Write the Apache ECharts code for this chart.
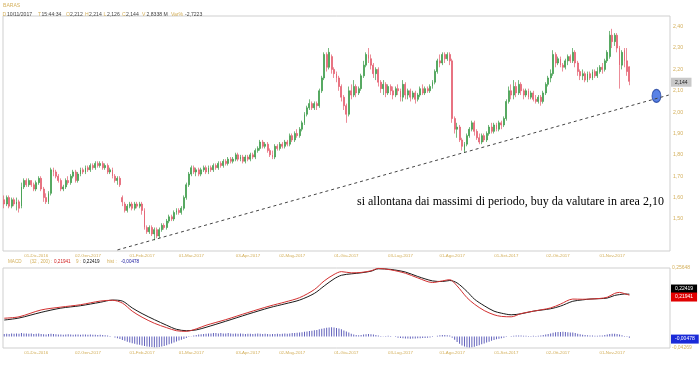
<!DOCTYPE html>
<html><head><meta charset="utf-8">
<script src="https://cdn.jsdelivr.net/npm/echarts@6/dist/echarts.min.js"></script>
<style>html,body{margin:0;padding:0;background:#fff}#c{width:700px;height:365px}</style>
</head><body><div id="c"></div>
<script>
// ---- data ----
const START = '2016-11-14';
const HOLIDAYS = ['2016-12-26','2017-04-14','2017-04-17','2017-05-01','2017-08-15'];
const SLOTS = 271;
const MESI = ['Gen','Feb','Mar','Apr','Mag','Giu','Lug','Ago','Set','Ott','Nov','Dic'];
const tickLabels = ['01-Dic-2016','02-Gen-2017','01-Feb-2017','01-Mar-2017','03-Apr-2017','02-Mag-2017','01-Giu-2017','03-Lug-2017','01-Ago-2017','01-Set-2017','02-Ott-2017','01-Nov-2017'];

// [open, close, low, high]
const ohlc = [
[1.59,1.57,1.55,1.61],[1.57,1.60,1.56,1.61],[1.60,1.56,1.55,1.61],[1.56,1.59,1.55,1.60],[1.59,1.57,1.56,1.60],
[1.57,1.58,1.54,1.60],[1.58,1.55,1.53,1.59],[1.56,1.65,1.55,1.67],[1.65,1.68,1.64,1.69],[1.68,1.66,1.65,1.69],
[1.66,1.68,1.65,1.69],[1.68,1.66,1.65,1.68],[1.66,1.64,1.63,1.67],[1.64,1.67,1.63,1.68],[1.67,1.69,1.66,1.70],
[1.69,1.64,1.63,1.70],[1.64,1.60,1.58,1.65],[1.60,1.58,1.57,1.62],[1.58,1.62,1.57,1.63],[1.62,1.73,1.61,1.74],
[1.73,1.72,1.70,1.74],[1.72,1.70,1.69,1.73],[1.70,1.68,1.67,1.71],[1.68,1.64,1.63,1.69],[1.64,1.65,1.63,1.66],
[1.65,1.68,1.64,1.69],[1.68,1.67,1.66,1.70],[1.67,1.70,1.66,1.71],[1.70,1.72,1.69,1.73],[1.72,1.68,1.67,1.73],
[1.68,1.71,1.67,1.72],[1.71,1.73,1.70,1.74],[1.73,1.72,1.71,1.74],[1.72,1.74,1.71,1.75],[1.74,1.73,1.72,1.75],
[1.73,1.75,1.72,1.76],[1.75,1.74,1.73,1.76],[1.74,1.76,1.73,1.77],[1.76,1.75,1.74,1.77],[1.75,1.76,1.74,1.77],
[1.76,1.74,1.73,1.77],[1.74,1.75,1.73,1.76],[1.75,1.72,1.71,1.76],[1.72,1.73,1.71,1.74],[1.73,1.70,1.69,1.74],
[1.70,1.68,1.67,1.71],[1.68,1.69,1.66,1.70],[1.69,1.66,1.65,1.70],[1.60,1.58,1.56,1.61],[1.57,1.54,1.53,1.58],
[1.54,1.56,1.53,1.57],[1.56,1.57,1.55,1.58],[1.57,1.55,1.54,1.58],[1.55,1.57,1.54,1.58],[1.57,1.56,1.55,1.58],
[1.56,1.57,1.55,1.58],[1.57,1.54,1.52,1.58],[1.54,1.46,1.45,1.55],[1.46,1.44,1.43,1.47],[1.44,1.46,1.43,1.47],
[1.46,1.43,1.42,1.47],[1.43,1.45,1.40,1.46],[1.45,1.42,1.41,1.46],[1.42,1.45,1.41,1.46],[1.45,1.47,1.44,1.48],
[1.47,1.46,1.45,1.48],[1.46,1.49,1.45,1.50],[1.49,1.51,1.48,1.52],[1.51,1.50,1.49,1.52],[1.50,1.53,1.49,1.54],
[1.53,1.54,1.52,1.55],[1.54,1.53,1.52,1.55],[1.53,1.55,1.52,1.56],[1.55,1.60,1.54,1.61],[1.60,1.66,1.59,1.67],
[1.66,1.71,1.65,1.72],[1.71,1.74,1.70,1.75],[1.74,1.72,1.71,1.75],[1.72,1.73,1.70,1.74],[1.73,1.71,1.70,1.74],
[1.71,1.73,1.70,1.74],[1.73,1.74,1.72,1.75],[1.74,1.72,1.71,1.75],[1.72,1.74,1.71,1.75],[1.74,1.73,1.72,1.75],
[1.73,1.75,1.72,1.76],[1.75,1.74,1.73,1.76],[1.74,1.76,1.73,1.77],[1.76,1.75,1.74,1.77],[1.75,1.77,1.74,1.78],
[1.77,1.76,1.75,1.78],[1.76,1.78,1.75,1.79],[1.78,1.77,1.76,1.79],[1.77,1.78,1.76,1.79],[1.78,1.80,1.77,1.81],
[1.80,1.78,1.77,1.81],[1.78,1.79,1.77,1.80],[1.79,1.77,1.76,1.80],[1.77,1.79,1.76,1.80],[1.79,1.78,1.77,1.80],
[1.78,1.80,1.77,1.81],[1.80,1.79,1.78,1.81],[1.79,1.82,1.78,1.83],[1.82,1.83,1.81,1.84],[1.83,1.86,1.82,1.87],
[1.86,1.84,1.83,1.87],[1.84,1.85,1.83,1.86],[1.85,1.82,1.81,1.86],[1.82,1.80,1.79,1.83],[1.80,1.79,1.78,1.82],
[1.79,1.84,1.78,1.85],[1.84,1.83,1.82,1.85],[1.83,1.85,1.82,1.86],[1.85,1.84,1.83,1.86],[1.84,1.86,1.83,1.87],
[1.86,1.85,1.84,1.87],[1.85,1.89,1.84,1.90],[1.89,1.87,1.86,1.90],[1.87,1.90,1.86,1.91],[1.90,1.89,1.88,1.92],
[1.89,1.92,1.88,1.93],[1.92,1.95,1.91,1.96],[1.95,1.99,1.94,2.00],[1.99,2.02,1.98,2.03],[2.02,2.04,2.01,2.06],
[2.04,2.02,2.01,2.05],[2.02,2.04,2.01,2.05],[2.04,2.03,2.01,2.05],[2.03,2.10,2.02,2.11],[2.10,2.16,2.09,2.17],
[2.16,2.27,2.15,2.28],[2.27,2.21,2.19,2.28],[2.21,2.28,2.20,2.30],[2.26,2.20,2.18,2.27],[2.20,2.18,2.16,2.21],
[2.18,2.16,2.14,2.19],[2.16,2.12,2.10,2.17],[2.12,2.07,2.05,2.13],[2.07,2.03,2.01,2.08],[2.03,1.99,1.95,2.04],
[1.99,2.10,1.98,2.12],[2.10,2.08,2.06,2.13],[2.08,2.12,2.07,2.15],[2.12,2.09,2.07,2.13],[2.09,2.11,2.08,2.12],
[2.11,2.17,2.10,2.18],[2.17,2.22,2.16,2.24],[2.22,2.27,2.21,2.28],[2.27,2.25,2.23,2.30],[2.25,2.22,2.20,2.27],
[2.22,2.18,2.16,2.23],[2.18,2.20,2.15,2.21],[2.20,2.14,2.12,2.21],[2.14,2.11,2.09,2.15],[2.11,2.13,2.08,2.15],
[2.13,2.09,2.07,2.14],[2.09,2.12,2.08,2.13],[2.12,2.10,2.08,2.13],[2.10,2.08,2.06,2.12],[2.08,2.11,2.07,2.12],
[2.11,2.10,2.08,2.13],[2.10,2.07,2.05,2.11],[2.07,2.13,2.05,2.15],[2.13,2.08,2.06,2.14],[2.08,2.10,2.06,2.11],
[2.10,2.07,2.05,2.11],[2.07,2.09,2.06,2.10],[2.09,2.06,2.04,2.10],[2.06,2.08,2.05,2.09],[2.08,2.11,2.07,2.12],
[2.11,2.09,2.08,2.13],[2.09,2.11,2.08,2.12],[2.11,2.10,2.09,2.12],[2.10,2.12,2.09,2.13],[2.12,2.14,2.11,2.15],
[2.14,2.19,2.13,2.20],[2.19,2.24,2.18,2.25],[2.24,2.23,2.21,2.27],[2.23,2.27,2.22,2.28],[2.27,2.25,2.23,2.28],
[2.25,2.27,2.24,2.28],[2.27,2.24,2.22,2.28],[2.24,1.97,1.95,2.25],[1.97,1.92,1.90,1.98],[1.92,1.93,1.88,1.95],
[1.93,1.87,1.86,1.94],[1.87,1.84,1.82,1.88],[1.82,1.85,1.81,1.86],[1.85,1.89,1.84,1.90],[1.89,1.92,1.88,1.93],
[1.92,1.95,1.91,1.96],[1.95,1.91,1.89,1.96],[1.91,1.88,1.87,1.92],[1.88,1.86,1.85,1.90],[1.86,1.89,1.85,1.90],
[1.89,1.87,1.86,1.90],[1.87,1.90,1.86,1.91],[1.90,1.93,1.89,1.94],[1.93,1.91,1.90,1.95],[1.91,1.94,1.90,1.95],
[1.94,1.92,1.91,1.95],[1.92,1.95,1.91,1.96],[1.95,1.94,1.92,1.96],[1.94,1.97,1.93,1.98],[1.97,2.05,1.96,2.06],
[2.05,2.10,2.04,2.12],[2.10,2.08,2.06,2.13],[2.08,2.12,2.06,2.15],[2.12,2.09,2.07,2.14],[2.09,2.13,2.08,2.15],
[2.13,2.10,2.08,2.14],[2.10,2.08,2.06,2.11],[2.08,2.10,2.07,2.11],[2.10,2.07,2.06,2.11],[2.07,2.09,2.06,2.10],
[2.09,2.06,2.05,2.10],[2.06,2.05,2.04,2.08],[2.05,2.07,2.04,2.08],[2.07,2.05,2.03,2.08],[2.05,2.09,2.04,2.10],
[2.09,2.13,2.08,2.14],[2.13,2.16,2.12,2.17],[2.16,2.18,2.14,2.20],[2.18,2.27,2.17,2.29],[2.27,2.23,2.21,2.28],
[2.23,2.25,2.22,2.26],[2.25,2.22,2.21,2.26],[2.22,2.21,2.19,2.23],[2.21,2.24,2.20,2.25],[2.24,2.26,2.22,2.27],
[2.26,2.24,2.23,2.27],[2.24,2.28,2.23,2.30],[2.28,2.23,2.21,2.29],[2.23,2.19,2.17,2.24],[2.19,2.17,2.15,2.20],
[2.17,2.18,2.15,2.20],[2.18,2.15,2.14,2.19],[2.15,2.18,2.14,2.19],[2.18,2.16,2.15,2.19],[2.16,2.19,2.15,2.20],
[2.19,2.17,2.16,2.20],[2.17,2.19,2.16,2.21],[2.19,2.21,2.18,2.22],[2.21,2.20,2.18,2.23],[2.20,2.24,2.19,2.25],
[2.24,2.28,2.23,2.29],[2.26,2.36,2.25,2.38],[2.36,2.33,2.30,2.39],[2.33,2.36,2.31,2.37],[2.36,2.30,2.28,2.37],
[2.30,2.22,2.11,2.31],[2.22,2.28,2.20,2.29],[2.29,2.24,2.21,2.30],[2.24,2.19,2.17,2.30],[2.212,2.144,2.126,2.214]
];
const lastClose = 2.144;

const macdLine = [[0,0.105],[6,0.112],[15,0.146],[23,0.160],[31,0.172],[39,0.190],[44,0.194],[48,0.180],[52,0.140],[56,0.110],[61,0.080],[66,0.058],[70,0.043],[74,0.040],[78,0.052],[82,0.070],[90,0.098],[99,0.133],[108,0.166],[114,0.185],[120,0.207],[126,0.247],[130,0.290],[134,0.322],[137,0.336],[141,0.330],[145,0.332],[149,0.340],[152,0.352],[157,0.345],[163,0.328],[168,0.305],[174,0.282],[178,0.290],[181,0.296],[184,0.265],[188,0.207],[191,0.175],[195,0.143],[199,0.122],[202,0.114],[206,0.112],[210,0.128],[215,0.140],[222,0.156],[226,0.175],[231,0.200],[235,0.199],[238,0.200],[242,0.203],[245,0.209],[248,0.228],[250,0.233],[252,0.227],[254,0.21941]];
const signalLine = [[0,0.096],[6,0.106],[15,0.134],[23,0.155],[31,0.167],[39,0.184],[44,0.195],[48,0.190],[52,0.156],[56,0.128],[61,0.098],[66,0.070],[70,0.050],[74,0.043],[78,0.047],[82,0.060],[90,0.090],[99,0.125],[108,0.158],[114,0.176],[120,0.195],[126,0.228],[130,0.265],[134,0.300],[137,0.318],[141,0.325],[145,0.330],[149,0.338],[152,0.350],[157,0.347],[163,0.334],[168,0.312],[174,0.290],[178,0.287],[181,0.292],[184,0.280],[188,0.238],[191,0.200],[195,0.167],[199,0.140],[202,0.130],[206,0.122],[210,0.127],[215,0.140],[222,0.152],[226,0.165],[231,0.189],[235,0.196],[238,0.200],[242,0.202],[245,0.205],[248,0.218],[250,0.222],[252,0.225],[254,0.22419]];
const hist = [
0.010,0.011,0.010,0.012,0.011,0.012,0.011,0.013,0.012,0.012,
0.011,0.012,0.010,0.011,0.012,0.010,0.009,0.008,0.010,0.011,
0.010,0.009,0.008,0.008,0.007,0.008,0.009,0.008,0.007,0.008,
0.008,0.007,0.008,0.008,0.007,0.008,0.007,0.007,0.006,0.007,
0.006,0.005,0.004,0.002,0.000,-0.003,-0.006,-0.009,-0.013,-0.016,
-0.019,-0.022,-0.025,-0.027,-0.030,-0.031,-0.033,-0.035,-0.037,-0.038,
-0.039,-0.040,-0.040,-0.039,-0.037,-0.035,-0.032,-0.029,-0.026,-0.022,
-0.018,-0.015,-0.012,-0.009,-0.005,-0.002,0.001,0.004,0.006,0.008,
0.009,0.010,0.011,0.012,0.012,0.013,0.013,0.012,0.013,0.012,
0.012,0.013,0.012,0.011,0.012,0.011,0.012,0.011,0.010,0.011,
0.011,0.010,0.011,0.012,0.011,0.010,0.011,0.010,0.009,0.010,
0.010,0.011,0.010,0.011,0.012,0.011,0.012,0.013,0.013,0.014,
0.015,0.016,0.018,0.019,0.021,0.022,0.024,0.025,0.027,0.029,
0.031,0.033,0.034,0.035,0.034,0.032,0.030,0.027,0.023,0.019,
0.015,0.011,0.008,0.006,0.005,0.006,0.008,0.009,0.010,0.009,
0.008,0.006,0.004,0.002,0.001,0.002,0.003,0.002,0.000,-0.002,
-0.004,-0.005,-0.006,-0.007,-0.007,-0.008,-0.007,-0.007,-0.006,-0.006,
-0.005,-0.005,-0.004,-0.003,-0.002,0.000,0.003,0.005,0.006,0.006,
0.005,0.004,-0.004,-0.012,-0.020,-0.027,-0.033,-0.037,-0.040,-0.041,
-0.040,-0.038,-0.035,-0.032,-0.029,-0.026,-0.022,-0.019,-0.016,-0.013,
-0.010,-0.008,-0.006,-0.004,-0.002,0.000,0.002,0.003,0.004,0.004,
0.004,0.003,0.003,0.002,0.002,0.003,0.002,0.003,0.004,0.006,
0.008,0.010,0.012,0.014,0.016,0.017,0.017,0.018,0.017,0.016,
0.015,0.015,0.013,0.011,0.009,0.007,0.006,0.005,0.004,0.004,
0.003,0.003,0.004,0.004,0.006,0.008,0.010,0.011,0.011,0.010,
0.008,0.005,0.002,-0.002,-0.00478
];
const trendLine = [[46,1.355],[270,2.080]];
const targetDot = [[265,2.076]];
const macdRange = [-0.04269, 0.25648];
const lastMacd = 0.21941, lastSignal = 0.22419, lastHist = -0.00478;

// ---- layout of header texts ----
const GOLD = '#d4b05c', VAL = '#444';
const headerTokens = [
  ['D',2.5,GOLD],['10/11/2017',7,VAL],['T',38,GOLD],['15:44:34',41.5,VAL],['O',66,GOLD],['2,212',70,VAL],
  ['H',85,GOLD],['2,214',89,VAL],['L',103.5,GOLD],['2,126',107,VAL],['C',122,GOLD],['2,144',126,VAL],
  ['V',142,GOLD],['2,8338 M',146.5,VAL],['Var%',171,GOLD],['-2,7223',185,VAL]
];
const macdTokens = [
  ['MACD',8,GOLD],['(32 , 200) :',30,GOLD],['0,21941',54,'#d02020'],['9 :',76,GOLD],
  ['0,22419',83,'#111'],['hist :',107,GOLD],['-0,00478',121,'#2020a0']
];

// ---- build ----
const dates = [];
let d = new Date(START + 'T00:00:00Z');
while (dates.length < SLOTS) {
  const wd = d.getUTCDay();
  const iso = d.toISOString().slice(0,10);
  if (wd !== 0 && wd !== 6 && !HOLIDAYS.includes(iso)) {
    dates.push(String(d.getUTCDate()).padStart(2,'0') + '-' + MESI[d.getUTCMonth()] + '-' + d.getUTCFullYear());
  }
  d.setUTCDate(d.getUTCDate() + 1);
}
const it = v => String(v).replace('.', ',');
const FONT = 'Liberation Sans';
const hideLine = {color:'rgba(0,0,0,0)', width:0};

const txt = (t, x, y, color, size) => ({type:'text', x, y, silent:true,
  style:{text:t, fill:color, fontSize:size, fontFamily:FONT, verticalAlign:'middle', align:'left'}});

const xBase = gi => ({
  type:'category', gridIndex:gi, data:dates, boundaryGap:true,
  axisLine:{show:false}, axisTick:{show:false}, splitLine:{show:false},
  axisLabel:{interval:(i,v)=>tickLabels.includes(v), fontSize:4.4, color:GOLD, fontFamily:FONT, margin:3}
});

const boxLabel = (text, bg, fg, off) => ({show:true, position:'end', distance:1, formatter:()=>text, fontSize:5, color:fg,
  backgroundColor:bg, padding:[2,4,2,4], offset:off, fontFamily:FONT});

const chart = echarts.init(document.getElementById('c'), null, {renderer:'canvas'});
chart.setOption({
  animation:false,
  backgroundColor:'#fff',
  textStyle:{fontFamily:FONT},
  title:[
    {left:357, top:195.5, padding:0, text:'si allontana dai massimi di periodo, buy da valutare in area 2,10',
      textStyle:{fontSize:12, color:'#000', fontWeight:'normal', fontFamily:'Liberation Serif'}}
  ],
  graphic:[txt('BARAS',3,6,GOLD,5.1)]
    .concat(headerTokens.map(t=>txt(t[0],t[1],14.3,t[2],5.1)))
    .concat(macdTokens.map(t=>txt(t[0],t[1],262,t[2],4.6))),
  grid:[
    {left:3, right:30, top:16, height:235, show:true, borderColor:'#cfcfcf', borderWidth:1},
    {left:3, right:30, top:268, height:80, show:true, borderColor:'#cfcfcf', borderWidth:1}
  ],
  xAxis:[xBase(0), xBase(1)],
  yAxis:[
    {gridIndex:0, position:'right', min:1.35, max:2.45, interval:0.05,
      axisLine:{show:false}, axisTick:{show:false}, splitLine:{show:false},
      axisLabel:{fontSize:5.2, color:GOLD, margin:3, fontFamily:FONT,
        formatter:v=>{const k=Math.round(v*100); return (k%10===0 && k>=150 && k<=240) ? it((k/100).toFixed(2)) : '';}}},
    {gridIndex:1, show:false, min:-0.04269, max:0.354},
    {gridIndex:1, position:'right', min:macdRange[0], max:macdRange[1],
      axisLine:{show:false}, axisTick:{show:false}, splitLine:{show:false},
      axisLabel:{fontSize:5, color:GOLD, margin:2, fontFamily:FONT, showMinLabel:true, showMaxLabel:true,
        formatter:v=>(Math.abs(v-macdRange[0])<1e-9 || Math.abs(v-macdRange[1])<1e-9) ? it(v) : ''}}
  ],
  series:[
    {type:'candlestick', xAxisIndex:0, yAxisIndex:0, data:ohlc, barWidth:1.4,
      itemStyle:{color:'#3a9a46', color0:'#e45a6c', borderColor:'#3a9a46', borderColor0:'#e45a6c', borderWidth:0.7},
      markLine:{silent:true, symbol:'none', lineStyle:hideLine,
        label:boxLabel(it(lastClose),'#c8c8c8','#222',[0,0]), data:[{yAxis:lastClose}]}},
    {type:'line', xAxisIndex:0, yAxisIndex:0, data:trendLine, symbol:'none', silent:true,
      lineStyle:{color:'#444', width:1, type:[3,3]}},
    {type:'scatter', xAxisIndex:0, yAxisIndex:0, data:targetDot, symbol:'circle', symbolSize:[9,13], silent:true,
      itemStyle:{color:'#2f63e0', borderColor:'#1d3f9c', borderWidth:1}},
    {type:'bar', xAxisIndex:1, yAxisIndex:2, data:hist, barWidth:0.9,
      itemStyle:{color:'#6262bc'},
      markLine:{silent:true, symbol:'none', lineStyle:hideLine,
        label:boxLabel(it(lastHist),'#1a2ad8','#fff',[0,2.5]), data:[{yAxis:lastHist}]}},
    {type:'line', xAxisIndex:1, yAxisIndex:1, data:signalLine, symbol:'none', smooth:0.3,
      lineStyle:{color:'#1a1a1a', width:1},
      markLine:{silent:true, symbol:'none', lineStyle:hideLine,
        label:boxLabel(it(lastSignal),'#000','#fff',[0,-6]), data:[{yAxis:lastSignal}]}},
    {type:'line', xAxisIndex:1, yAxisIndex:1, data:macdLine, symbol:'none', smooth:0.3,
      lineStyle:{color:'#d23030', width:1},
      markLine:{silent:true, symbol:'none', lineStyle:hideLine,
        label:boxLabel(it(lastMacd),'#e00000','#fff',[0,2]), data:[{yAxis:lastMacd}]}}
  ]
});
</script></body></html>
